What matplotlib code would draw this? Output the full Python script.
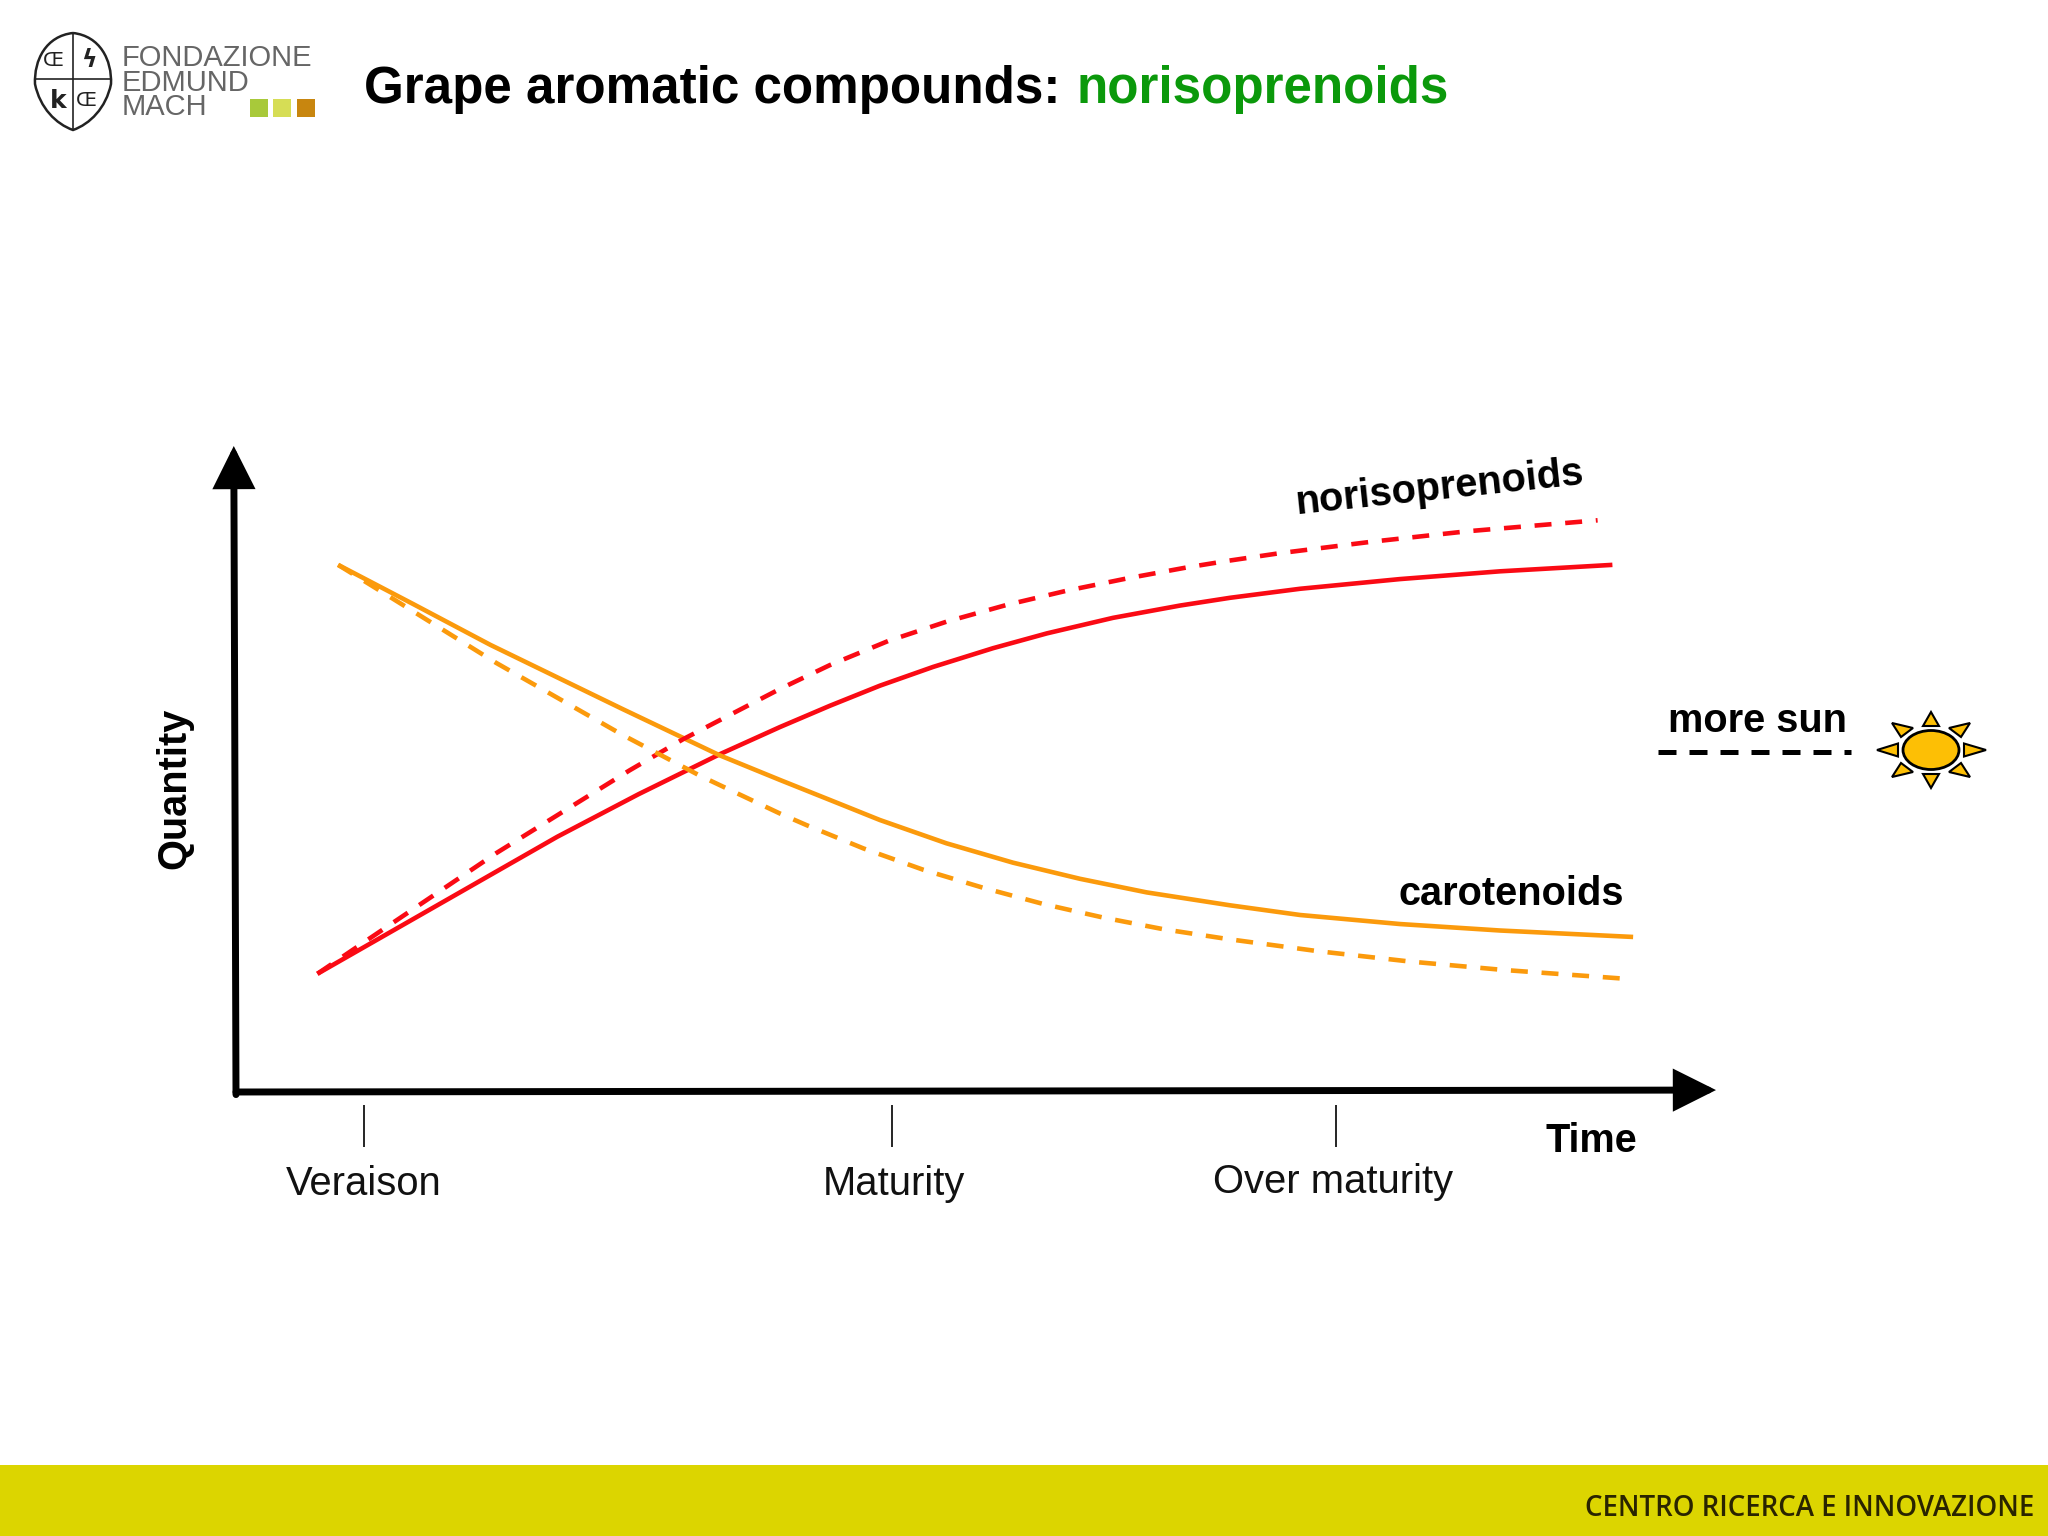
import matplotlib
matplotlib.use("Agg")
import matplotlib.pyplot as plt
from matplotlib.patches import Ellipse, PathPatch, Polygon, Rectangle
from matplotlib.path import Path

plt.rcParams['font.family'] = ['Liberation Sans', 'DejaVu Sans']

# curves, 0-100 on both axes
red_x = [5.5, 13.6, 21.7, 27.2, 32.7, 36.76, 40.14, 43.51, 47.1, 51.15, 54.8, 59.26, 63.78, 67.16, 71.9, 78.65, 85.4, 93.0]
red_y = [18.3, 28.9, 39.5, 46.1, 52.3, 56.5, 59.8, 62.9, 65.8, 68.7, 71.0, 73.4, 75.3, 76.5, 77.9, 79.4, 80.6, 81.6]

orange_x = [6.9, 12.0, 17.2, 26.1, 32.7, 36.76, 40.14, 43.51, 48.0, 52.5, 57.03, 61.53, 67.16, 71.9, 78.65, 85.4, 94.4]
orange_y = [81.6, 75.5, 69.2, 59.3, 52.1, 48.3, 45.2, 42.1, 38.5, 35.5, 33.0, 30.9, 28.9, 27.4, 26.0, 25.0, 24.0]

red_sun_x = [5.5, 9.05, 17.6, 26.6, 30.2, 36.76, 40.14, 44.05, 48.0, 52.07, 56.13, 60.2, 64.24, 66.94, 70.5, 76.8, 83.2, 92.0]
red_sun_y = [18.3, 23.8, 37.0, 49.8, 54.6, 62.4, 66.1, 69.8, 72.8, 75.4, 77.6, 79.5, 81.2, 82.2, 83.4, 85.2, 86.8, 88.5]

orange_sun_x = [6.9, 10.5, 17.6, 26.1, 31.4, 36.76, 38.56, 42.4, 46.44, 50.5, 54.55, 58.6, 62.66, 66.94, 73.1, 79.3, 85.6, 94.05]
orange_sun_y = [81.6, 76.5, 66.4, 55.3, 48.9, 43.1, 41.3, 37.7, 34.4, 31.6, 29.1, 27.0, 25.2, 23.7, 21.8, 20.2, 18.9, 17.5]

stage_x = [8.65, 44.3, 74.3]
stage_label_x = [8.65, 44.45, 74.1]
stage_label_y = [-14.2, -14.2, -13.9]
stage_names = ['Veraison', 'Maturity', 'Over maturity']

RED = '#fa0a14'
ORANGE = '#fb9a0c'

fig = plt.figure(figsize=(20.48, 15.36), dpi=100)

# whole page in pixels, for the slide furniture
page = fig.add_axes([0, 0, 1, 1])
page.set_xlim(0, 2048)
page.set_ylim(1536, 0)
page.axis('off')

# chart area
ax = fig.add_axes([236 / 2048, 1 - 1092 / 1536, 1480 / 2048, 646 / 1536])
ax.set_xlim(0, 100)
ax.set_ylim(0, 100)
ax.axis('off')

ax.plot(red_x, red_y, color=RED, lw=3.3, solid_capstyle='butt')
ax.plot(orange_x, orange_y, color=ORANGE, lw=3.3, solid_capstyle='butt')
ax.plot(red_sun_x, red_sun_y, color=RED, lw=3.3, dashes=(3.7, 3.0))
ax.plot(orange_sun_x, orange_sun_y, color=ORANGE, lw=3.3, dashes=(3.7, 3.0))

arrow = dict(arrowstyle='-|>,head_length=1.0,head_width=0.5', color='black', lw=5,
             mutation_scale=23, shrinkA=0, shrinkB=0, joinstyle='miter')
ax.annotate('', xy=(100, 0.3), xytext=(0, 0), arrowprops=arrow, annotation_clip=False)
ax.annotate('', xy=(-0.15, 100), xytext=(0, -0.4), arrowprops=arrow, annotation_clip=False)

ax.vlines(stage_x, -2, -8.5, color='black', lw=1.2, clip_on=False)
for x, y, name in zip(stage_label_x, stage_label_y, stage_names):
    ax.text(x, y, name, ha='center', va='center', fontsize=28.8, color='#111111')

page.text(174, 788, 'Quantity', rotation=90, ha='center', va='center', fontsize=28.6, fontweight='bold')
page.text(1591, 1141, 'Time', ha='center', va='center', fontsize=28.5, fontweight='bold')
page.text(1439, 488, 'norisoprenoids', rotation=6, ha='center', va='center', fontsize=28.6,
          fontweight='bold', rotation_mode='anchor')
page.text(1511, 894, 'carotenoids', ha='center', va='center', fontsize=28.6, fontweight='bold')

# more sun key
page.text(1758, 721, 'more sun', ha='center', va='center', fontsize=28.6, fontweight='bold')
page.plot([1658, 1851], [752, 752], color='black', lw=3.6, dashes=(3.6, 2.6))
sun_x, sun_y = 1931, 750
sun_fill = '#fdbf05'
page.add_patch(Ellipse((sun_x, sun_y), 56, 39, fc=sun_fill, ec='black', lw=2))
rays = [[(0, -38), (-8, -24), (8, -24)], [(0, 38), (-8, 24), (8, 24)],
        [(-54, 0), (-33, -6.5), (-33, 6.5)], [(55, 0), (33, -6.5), (33, 6.5)],
        [(39, -27), (18, -22), (30, -13)], [(-39, -27), (-18, -22), (-30, -13)],
        [(39, 27), (18, 22), (30, 13)], [(-39, 27), (-18, 22), (-30, 13)]]
for ray in rays:
    pts = [(sun_x + dx, sun_y + dy) for dx, dy in ray]
    page.add_patch(Polygon(pts, closed=True, fc=sun_fill, ec='black', lw=1.5))

# title
page.text(364, 103, 'Grape aromatic compounds: ', fontsize=36.8, fontweight='bold', color='black')
page.text(1076, 103, 'norisoprenoids', fontsize=36.8, fontweight='bold', color='#0b990b')

# logo
shield = Path([(73, 33), (100, 36), (112, 60), (111, 84), (106, 108), (90, 124), (73, 130),
               (56, 124), (40, 108), (35, 84), (34, 60), (46, 36), (73, 33)],
              [Path.MOVETO] + [Path.CURVE4] * 12)
page.add_patch(PathPatch(shield, fc='white', ec='#222222', lw=1.8))
page.plot([35, 111], [79, 79], color='#222222', lw=1.2)
page.plot([73, 73], [33, 130], color='#222222', lw=1.2)
logo_font = ['DejaVu Sans']
page.text(53, 61, 'Œ', fontsize=14, ha='center', va='center', color='#222222', family=logo_font)
page.text(86, 101, 'Œ', fontsize=14, ha='center', va='center', color='#222222', family=logo_font)
page.text(89, 60, 'ϟ', fontsize=17, ha='center', va='center', color='#222222', fontweight='bold', family=logo_font)
page.text(58, 101, 'k', fontsize=18, ha='center', va='center', color='#222222', fontweight='bold', family=logo_font)
for y, word in zip([58, 83, 107], ['FONDAZIONE', 'EDMUND', 'MACH']):
    page.text(122, y, word, fontsize=21, color='#666666', va='center', ha='left')
for x, c in zip([250, 273, 297], ['#a8c93a', '#d6dd55', '#c8860f']):
    page.add_patch(Rectangle((x, 99), 18, 18, fc=c, ec='none'))

# footer band
page.add_patch(Rectangle((0, 1465), 2048, 71, fc='#dcd500', ec='none'))
page.text(2034, 1509, 'CENTRO RICERCA E INNOVAZIONE', ha='right', va='center', fontsize=19.9,
          color='#2a2400', family=['Open Sans'], fontweight='semibold')

fig.savefig('out.png', dpi=100, facecolor='white')
